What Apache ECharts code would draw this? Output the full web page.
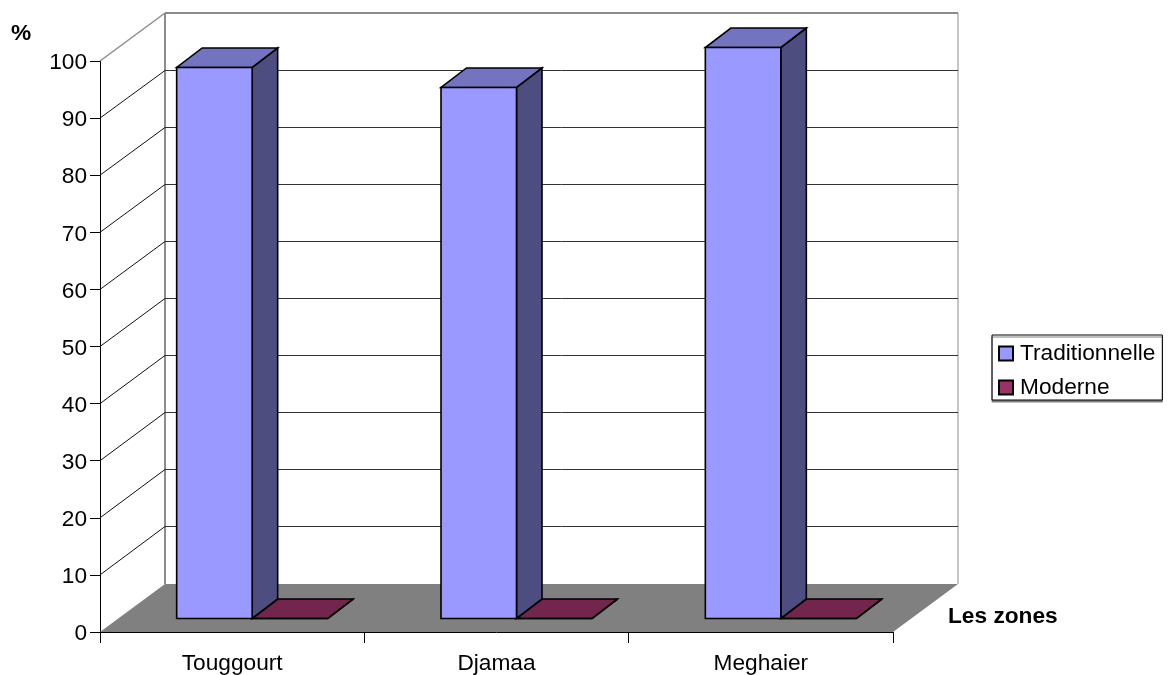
<!DOCTYPE html>
<html>
<head>
<meta charset="utf-8">
<style>html,body{margin:0;padding:0;background:#fff}#chart{width:1169px;height:675px}</style>
<script src="https://cdn.jsdelivr.net/npm/echarts@6/dist/echarts.min.js"></script>
</head>
<body>
<div id="chart"></div>
<script>
const zones = ['Touggourt', 'Djamaa', 'Meghaier'];
const traditionnelle = [96.5, 93, 100];
const moderne = [0, 0, 0];
const yTicks = [0, 10, 20, 30, 40, 50, 60, 70, 80, 90, 100];

const FONT = '"Liberation Sans", Arial, sans-serif';
// Oblique projection of the room and of the bars standing in it
const ROOM_DX = 65, ROOM_DY = -48;
const BAR_DX = 20, BAR_DY = -13.5;
const DEPTH_DX = 25.5, DEPTH_DY = -19.5;
const BAR_W = 75.5;

const poly = (points, fill, stroke, lineWidth) => ({
  type: 'polygon',
  shape: { points },
  style: { fill, stroke: stroke || null, lineWidth: lineWidth || 0, lineJoin: 'miter' }
});
const line = (a, b, stroke, lineWidth) => ({
  type: 'line',
  shape: { x1: a[0], y1: a[1], x2: b[0], y2: b[1] },
  style: { stroke, lineWidth }
});

// Floor and back wall of the room, drawn once
function renderRoom(params, api) {
  const g = params.coordSys;
  const r = g.x + g.width, b = g.y + g.height;
  const back = (x, y) => [x + ROOM_DX, y + ROOM_DY];
  const wallGray = '#8c8c8c';
  return {
    type: 'group',
    children: [
      poly([[g.x, b], [r, b], back(r, b), back(g.x, b)], '#808080'),
      line(back(g.x, g.y), back(g.x, b), wallGray, 2),
      line(back(g.x, g.y), back(r, g.y), wallGray, 2),
      line(back(r, g.y), back(r, b), wallGray, 1),
      line([g.x, g.y], back(g.x, g.y), wallGray, 1.5)
    ]
  };
}

// One value gridline: diagonal on the side wall, horizontal on the back wall
function renderGridline(params, api) {
  const g = params.coordSys;
  const y = api.coord([0, api.value(1)])[1];
  const r = g.x + g.width;
  const backY = Math.floor(y + ROOM_DY) + 0.5;
  return {
    type: 'group',
    children: [
      line([g.x, y], [g.x + ROOM_DX, backY], '#111', 1),
      line([g.x + ROOM_DX, backY], [r + ROOM_DX, backY], '#333', 1)
    ]
  };
}

function barRenderer(slot, front, top, side) {
  return function (params, api) {
    const base = api.coord([api.value(0), 0]);
    const peak = api.coord([api.value(0), api.value(1)]);
    const x0 = base[0] + BAR_DX + slot * BAR_W;
    const x1 = x0 + BAR_W;
    const y0 = base[1] + BAR_DY;
    const y1 = peak[1] + BAR_DY;
    const ink = '#000', w = 1.6;
    return {
      type: 'group',
      children: [
        poly([[x1, y1], [x1 + DEPTH_DX, y1 + DEPTH_DY], [x1 + DEPTH_DX, y0 + DEPTH_DY], [x1, y0]], side, ink, w),
        poly([[x0, y1], [x1, y1], [x1 + DEPTH_DX, y1 + DEPTH_DY], [x0 + DEPTH_DX, y1 + DEPTH_DY]], top, ink, w),
        poly([[x0, y1], [x1, y1], [x1, y0], [x0, y0]], front, ink, w)
      ]
    };
  };
}

const chart = echarts.init(document.getElementById('chart'), null, { renderer: 'canvas' });
chart.setOption({
  animation: false,
  backgroundColor: '#fff',
  textStyle: { fontFamily: FONT },
  grid: { left: 100, top: 61, width: 793, height: 571, outerBoundsMode: 'none' },
  graphic: [{
    type: 'text',
    x: 948,
    y: 617,
    style: { text: 'Les zones', fontFamily: FONT, fontSize: 22.7, fontWeight: 'bold', fill: '#000', verticalAlign: 'middle' }
  }],
  legend: {
    data: ['Traditionnelle', 'Moderne'],
    orient: 'vertical',
    left: 992,
    top: 335,
    padding: [7, 7, 1, 6],
    itemGap: 11,
    itemWidth: 14,
    itemHeight: 14,
    icon: 'rect',
    selectedMode: false,
    backgroundColor: '#fff',
    borderColor: '#000',
    borderWidth: 1,
    shadowColor: '#808080',
    shadowBlur: 0,
    shadowOffsetX: 0,
    shadowOffsetY: 2,
    textStyle: { fontFamily: FONT, fontSize: 22.7, color: '#000', padding: [3, 0, 0, 2] }
  },
  xAxis: {
    type: 'category',
    data: zones,
    axisLine: { lineStyle: { color: '#000', width: 1 } },
    axisTick: { show: true, length: 11, lineStyle: { color: '#000', width: 1 } },
    axisLabel: { fontFamily: FONT, fontSize: 22.7, color: '#000', margin: 20 }
  },
  yAxis: {
    type: 'value',
    min: 0,
    max: 100,
    interval: 10,
    name: '%',
    nameLocation: 'end',
    nameGap: 16,
    nameTextStyle: { fontFamily: FONT, fontSize: 22.7, fontWeight: 'bold', color: '#000', align: 'center', padding: [0, 158, 0, 0] },
    splitLine: { show: false },
    axisLine: { show: true, lineStyle: { color: '#000', width: 1 } },
    axisTick: { show: true, length: 10, lineStyle: { color: '#000', width: 1 } },
    axisLabel: { fontFamily: FONT, fontSize: 22.7, color: '#000', margin: 13, verticalAlign: 'top', lineHeight: 4 }
  },
  series: [
    {
      name: 'room',
      type: 'custom',
      z: 1,
      silent: true,
      renderItem: renderRoom,
      data: [[0, 0]],
      encode: { x: 0, y: 1 }
    },
    {
      name: 'gridlines',
      type: 'custom',
      z: 2,
      silent: true,
      renderItem: renderGridline,
      data: yTicks.slice(1, -1).map(v => [0, v]),
      encode: { x: 0, y: 1 }
    },
    {
      name: 'Moderne',
      type: 'custom',
      z: 3,
      itemStyle: { color: '#993366', borderColor: '#000', borderWidth: 1.5 },
      renderItem: barRenderer(0, '#993366', '#73264d', '#4d1933'),
      data: moderne.map((v, i) => [i, v]),
      encode: { x: 0, y: 1 }
    },
    {
      name: 'Traditionnelle',
      type: 'custom',
      z: 4,
      itemStyle: { color: '#9999ff', borderColor: '#000', borderWidth: 1.5 },
      renderItem: barRenderer(-1, '#9999ff', '#7373bf', '#4d4d80'),
      data: traditionnelle.map((v, i) => [i, v]),
      encode: { x: 0, y: 1 }
    }
  ]
});
</script>
</body>
</html>
